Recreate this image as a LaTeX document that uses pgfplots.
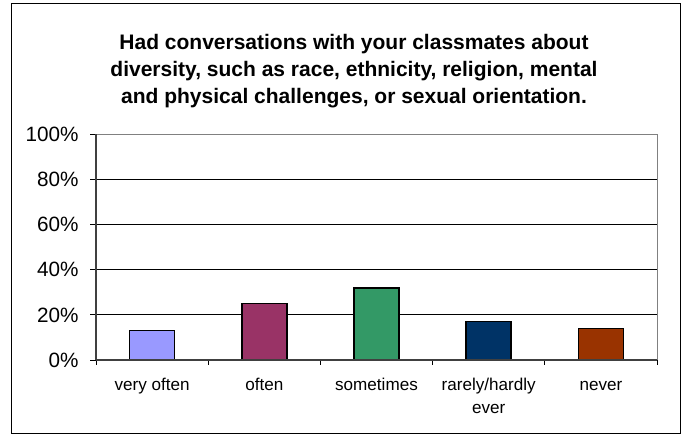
\documentclass[border=0pt]{standalone}
\usepackage{pgfplots}
\pgfplotsset{compat=1.18}
\usepackage{fontspec}
\setmainfont{Liberation Sans}
\definecolor{c1}{HTML}{9999FF}
\definecolor{c2}{HTML}{993366}
\definecolor{c3}{HTML}{339966}
\definecolor{c4}{HTML}{003366}
\definecolor{c5}{HTML}{993300}
\begin{document}
\begin{tikzpicture}[x=1bp,y=1bp]
\path[use as bounding box] (0,0) rectangle (693,435);
\draw[line width=1bp] (11,1.7) rectangle (680.5,431);
\node[anchor=base,font=\fontsize{21bp}{27bp}\selectfont\bfseries] at (354,385.7) {Had conversations with your classmates about};
\node[anchor=base,font=\fontsize{21bp}{27bp}\selectfont\bfseries] at (354,358.3) {diversity, such as race, ethnicity, religion, mental};
\node[anchor=base,font=\fontsize{21bp}{27bp}\selectfont\bfseries] at (354,331) {and physical challenges, or sexual orientation.};
\begin{axis}[
  at={(96bp,75bp)}, anchor=south west, scale only axis,
  width=561bp, height=225.5bp,
  xmin=-0.5, xmax=4.5, ymin=0, ymax=100,
  axis line style={color=gray, line width=1bp},
  tick pos=left, tick align=outside,
  ytick={0,20,...,100},
  yticklabel={\pgfmathprintnumber{\tick}\%},
  /pgf/number format/assume math mode=true,
  yticklabel style={font=\fontsize{20.7bp}{24bp}\selectfont, xshift=-8bp},
  major tick length=6bp,
  y tick style={black, line width=0.8bp},
  xtick={0,1,2,3,4},
  xticklabels={{\strut very often},{\strut often},{\strut sometimes},{\strut rarely/hardly\\\strut ever},{\strut never}},
  xticklabel style={font=\fontsize{17.1bp}{22.5bp}\selectfont, align=center, anchor=north, inner sep=0pt, yshift=-9bp},
  major x tick style={draw=none},
  minor xtick={-0.5,0.5,...,4.5},
  minor tick length=5bp,
  minor x tick style={black, line width=0.8bp},
  extra y ticks={20,40,60,80},
  extra y tick labels={},
  extra y tick style={ymajorgrids=true, major tick length=0pt, grid style={black, line width=0.8bp}},
  after end axis/.code={
    \draw[black!75, line width=1.2bp] (rel axis cs:0,0) -- (rel axis cs:0,1);
    \draw[black!75, line width=1.2bp] (rel axis cs:0,0) -- (rel axis cs:1,0);
  },
]
\addplot[ybar, bar width=45bp, bar shift=0pt, fill=c1, draw=black, line width=1.6bp] coordinates {(0,13)};
\addplot[ybar, bar width=45bp, bar shift=0pt, fill=c2, draw=black, line width=1.6bp] coordinates {(1,25)};
\addplot[ybar, bar width=45bp, bar shift=0pt, fill=c3, draw=black, line width=1.6bp] coordinates {(2,32)};
\addplot[ybar, bar width=45bp, bar shift=0pt, fill=c4, draw=black, line width=1.6bp] coordinates {(3,17)};
\addplot[ybar, bar width=45bp, bar shift=0pt, fill=c5, draw=black, line width=1.6bp] coordinates {(4,14)};
\end{axis}
\end{tikzpicture}
\end{document}
